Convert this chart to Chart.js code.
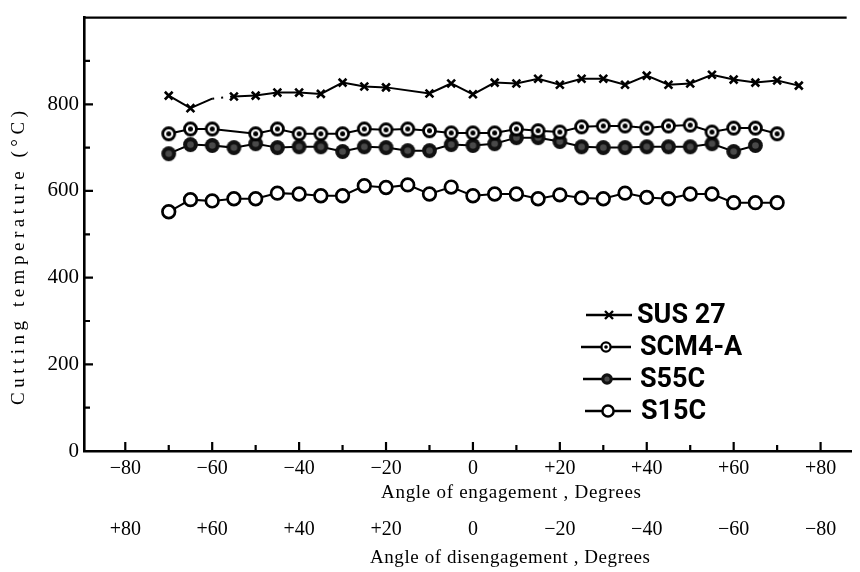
<!DOCTYPE html>
<html>
<head>
<meta charset="utf-8">
<script src="https://cdn.jsdelivr.net/npm/chart.js@4.4.1/dist/chart.umd.min.js"></script>
<style>
  html, body { margin: 0; padding: 0; background: #fff; }
</style>
</head>
<body>
<canvas id="myChart_1" width="860" height="572"></canvas>
<script>
// angle of engagement (degrees) for each measuring point
const angles = [-70, -65, -60, -55, -50, -45, -40, -35, -30, -25, -20, -15, -10, -5, 0,
                5, 10, 15, 20, 25, 30, 35, 40, 45, 50, 55, 60, 65, 70, 75];

// cutting temperature, deg C (null = no point)
const sus27 = [820, 791, 813, 818, 820, 827, 827, 824, 850, 841, 839, null, 825, 848, 823,
               850, 848, 859, 845, 859, 859, 845, 866, 845, 848, 868, 857, 850, 855, 843];
const scm4a = [732, 743, 743, null, 732, 743, 732, 732, 732, 743, 741, 743, 739, 734, 734,
               734, 743, 739, 736, 748, 750, 750, 745, 750, 752, 736, 745, 745, 732, null];
const s55c  = [686, 707, 705, 700, 709, 700, 702, 702, 691, 702, 700, 693, 693, 707, 705,
               709, 723, 723, 714, 702, 700, 700, 702, 702, 702, 709, 691, 705, null, null];
const s15c  = [552, 580, 577, 582, 582, 595, 593, 589, 589, 612, 608, 614, 593, 609, 589,
               593, 593, 582, 591, 584, 582, 595, 585, 582, 593, 593, 573, 573, 573, null];

const seriesNames = ["SUS 27", "SCM4-A", "S55C", "S15C"];

const xTickValues = [-80, -60, -40, -20, 0, 20, 40, 60, 80];
const xMinorTicks = [-80, -70, -60, -50, -40, -30, -20, -10, 0, 10, 20, 30, 40, 50, 60, 70, 80];
const yTickValues = [0, 200, 400, 600, 800];
const yMinorTicks = [100, 200, 300, 400, 500, 600, 700, 800, 900];

// SUS 27 segments that are broken in the original (start angle of segment)
const sus27Broken = [-60, -20];
const sus27Hidden = [-60];

const serif = "'Liberation Serif', 'DejaVu Serif', serif";

function fmtAngle(v) {
  if (v === 0) return "0";
  return (v > 0 ? "+" : "\u2212") + Math.abs(v);
}

function toPoints(vals) {
  return angles.map((a, i) => ({ x: a, y: vals[i] }));
}

// open circle with a dot in the middle (SCM4-A)
function ringDot(r, lw, dot) {
  const size = Math.ceil(2 * r + lw + 2);
  const c = document.createElement("canvas");
  c.width = size; c.height = size;
  const g = c.getContext("2d");
  g.beginPath();
  g.arc(size / 2, size / 2, r, 0, Math.PI * 2);
  g.fillStyle = "#fff"; g.fill();
  g.lineWidth = lw; g.strokeStyle = "#000"; g.stroke();
  g.beginPath();
  g.arc(size / 2, size / 2, dot, 0, Math.PI * 2);
  g.fillStyle = "#000"; g.fill();
  return c;
}
// filled dark circle (S55C)
function darkDot(r) {
  const size = Math.ceil(2 * r + 2);
  const c = document.createElement("canvas");
  c.width = size; c.height = size;
  const g = c.getContext("2d");
  g.beginPath();
  g.arc(size / 2, size / 2, r, 0, Math.PI * 2);
  g.fillStyle = "#111"; g.fill();
  g.beginPath();
  g.arc(size / 2, size / 2, r * 0.45, 0, Math.PI * 2);
  g.fillStyle = "#4a4a4a"; g.fill();
  return c;
}

const scmImg = ringDot(6, 2.8, 2.5);
const s55Img = darkDot(7.4);
const scmLegend = ringDot(4.6, 2.3, 1.8);
const s55Legend = darkDot(5.8);

const ctx = document.getElementById("myChart_1").getContext("2d");

const decorPlugin = {
  id: "decor",
  afterDraw(chart) {
    const c = chart.ctx;
    const a = chart.chartArea;
    const x = chart.scales.x;
    const y = chart.scales.y;
    c.save();
    c.strokeStyle = "#000";
    c.lineWidth = 2.2;
    c.setLineDash([]);
    // inward tick marks
    c.beginPath();
    xMinorTicks.forEach(v => {
      const px = x.getPixelForValue(v);
      const len = v % 20 === 0 ? 9 : 6;
      c.moveTo(px, a.bottom + 1);
      c.lineTo(px, a.bottom - len);
    });
    yMinorTicks.forEach(v => {
      const py = y.getPixelForValue(v);
      const len = v % 200 === 0 ? 9 : 6;
      c.moveTo(a.left - 1, py);
      c.lineTo(a.left + len, py);
    });
    c.stroke();
    // top frame line
    c.beginPath();
    c.lineWidth = 2.2;
    c.moveTo(a.left - 1, a.top);
    c.lineTo(x.getPixelForValue(86), a.top);
    c.stroke();

    // axis titles, spaced out like the original typesetting
    function spaced(text, cx, cy, width, font, rot) {
      c.save();
      c.font = font;
      c.fillStyle = "#000";
      c.textBaseline = "middle";
      c.textAlign = "left";
      c.letterSpacing = "0px";
      const w0 = c.measureText(text).width;
      const sp = Math.max(0, (width - w0) / (text.length - 1));
      c.letterSpacing = sp + "px";
      c.translate(cx, cy);
      if (rot) c.rotate(-Math.PI / 2);
      c.fillText(text, -width / 2, 0);
      c.restore();
    }
    spaced("Cutting temperature (\u00b0C)", 19, 258, 294, "19px " + serif, true);
    spaced("Angle of engagement , Degrees", 511, 493, 260, "19px " + serif, false);
    spaced("Angle of disengagement , Degrees", 510, 558, 280, "19px " + serif, false);

    // legend
    const rows = [315, 347, 379, 411];
    const lineX = [[586, 632], [581, 631], [583, 631], [585, 631]];
    const textX = [637, 640, 640, 641];
    c.font = "bold 27px Roboto, 'Liberation Sans', sans-serif";
    c.textBaseline = "middle";
    rows.forEach((ry, i) => {
      const [x0, x1] = lineX[i];
      const mx = (x0 + x1) / 2;
      c.beginPath();
      c.lineWidth = 2.4;
      c.moveTo(x0, ry); c.lineTo(x1, ry);
      c.stroke();
      if (i === 0) {
        c.beginPath();
        c.lineWidth = 2.4;
        c.moveTo(mx - 4, ry - 4); c.lineTo(mx + 4, ry + 4);
        c.moveTo(mx + 4, ry - 4); c.lineTo(mx - 4, ry + 4);
        c.stroke();
      } else if (i === 1) {
        c.drawImage(scmLegend, mx - scmLegend.width / 2, ry - scmLegend.height / 2);
      } else if (i === 2) {
        c.drawImage(s55Legend, mx - s55Legend.width / 2, ry - s55Legend.height / 2);
      } else {
        c.beginPath();
        c.arc(mx, ry, 5.6, 0, Math.PI * 2);
        c.fillStyle = "#fff"; c.fill();
        c.lineWidth = 2.5; c.stroke();
      }
      c.fillStyle = "#000";
      c.fillText(seriesNames[i], textX[i], ry + 1);
    });
    c.restore();
  }
};

const config = {
  type: "line",
  data: {
    datasets: [
      {
        label: seriesNames[0],
        data: toPoints(sus27),
        borderColor: "#000",
        borderWidth: 2,
        pointStyle: "crossRot",
        pointRadius: c => (c.raw && sus27Hidden.includes(c.raw.x) ? 0 : 5.5),
        pointBorderWidth: 2.6,
        pointBorderColor: "#000",
        spanGaps: true,
        segment: {
          borderDash: c => (sus27Broken.includes(c.p0.parsed.x) ? [2, 7] : undefined)
        }
      },
      {
        label: seriesNames[1],
        data: toPoints(scm4a),
        borderColor: "#000",
        borderWidth: 2,
        pointStyle: scmImg,
        pointRadius: 7,
        spanGaps: true
      },
      {
        label: seriesNames[2],
        data: toPoints(s55c),
        borderColor: "#000",
        borderWidth: 2,
        pointStyle: s55Img,
        pointRadius: 7,
        spanGaps: false
      },
      {
        label: seriesNames[3],
        data: toPoints(s15c),
        borderColor: "#000",
        borderWidth: 2,
        pointStyle: "circle",
        pointRadius: 6.3,
        pointBorderWidth: 2.7,
        pointBackgroundColor: "#fff",
        pointBorderColor: "#000",
        spanGaps: false
      }
    ]
  },
  options: {
    responsive: false,
    devicePixelRatio: 1,
    animation: false,
    layout: { padding: { top: 9, right: 0, left: 0, bottom: 0 } },
    plugins: {
      legend: { display: false },
      tooltip: { enabled: false }
    },
    elements: { line: { tension: 0 } },
    scales: {
      x: {
        type: "linear",
        position: "bottom",
        weight: 0,
        min: -89.5,
        max: 87,
        afterBuildTicks: s => { s.ticks = xTickValues.map(v => ({ value: v })); },
        afterFit: s => { s.height = 62; },
        grid: { display: false, drawTicks: false },
        border: { display: true, color: "#000", width: 2.6 },
        ticks: {
          padding: 6,
          color: "#000",
          font: { family: serif, size: 20 },
          maxRotation: 0,
          autoSkip: false,
          callback: v => fmtAngle(v)
        }
      },
      x2: {
        type: "linear",
        position: "bottom",
        weight: 1,
        min: -89.5,
        max: 87,
        afterBuildTicks: s => { s.ticks = xTickValues.map(v => ({ value: v })); },
        afterFit: s => { s.height = 59; },
        grid: { display: false, drawTicks: false },
        border: { display: false },
        ticks: {
          padding: 5,
          color: "#000",
          font: { family: serif, size: 20 },
          maxRotation: 0,
          autoSkip: false,
          callback: v => fmtAngle(-v)
        }
      },
      y: {
        type: "linear",
        min: 0,
        max: 1000,
        afterBuildTicks: s => { s.ticks = yTickValues.map(v => ({ value: v })); },
        afterFit: s => { s.width = 84; },
        grid: { display: false, drawTicks: false },
        border: { display: true, color: "#000", width: 2.6 },
        ticks: {
          padding: 5,
          color: "#000",
          font: { family: serif, size: 21 }
        }
      }
    }
  },
  plugins: [decorPlugin]
};

const myChart_1 = new Chart(ctx, config);
</script>
</body>
</html>
